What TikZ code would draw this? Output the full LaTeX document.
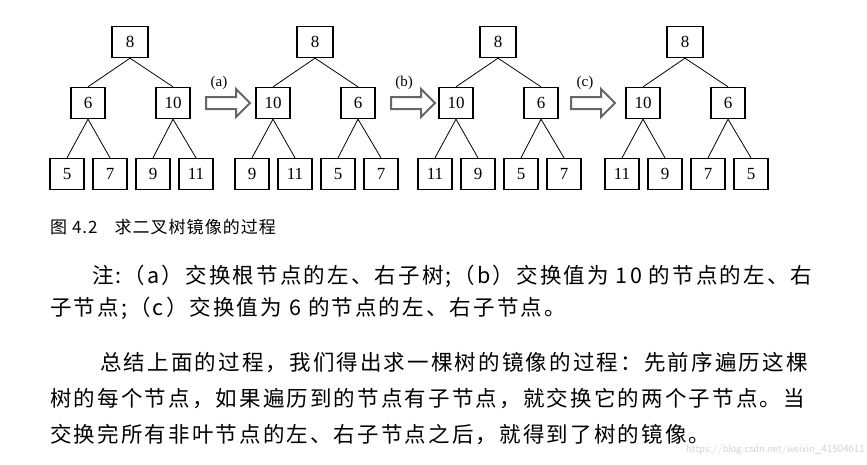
\documentclass[tikz,border=0pt]{standalone}
\usepackage{fontspec}
\setmainfont{Liberation Serif}
\newfontfamily\cjk[LetterSpace=10]{Noto Sans CJK SC}
\newfontfamily\cjkcap[LetterSpace=6]{Noto Sans CJK SC}
\usetikzlibrary{shapes.arrows}
\begin{document}
\begin{tikzpicture}[x=1pt,y=-1pt,
  tn/.style={draw,line width=1.3pt,minimum width=34pt,minimum height=31pt,inner sep=0pt,font=\fontsize{17}{17}\selectfont},
  rn/.style={tn,minimum width=36pt},
  ed/.style={line width=0.8pt},
  fat/.style={single arrow,draw=gray!80!black,line width=2pt,fill=white,minimum height=44pt,minimum width=28pt,single arrow head extend=4pt,inner sep=2pt},
  lab/.style={font=\fontsize{15}{15}\selectfont},
  body/.style={anchor=west,inner sep=0pt,font=\cjk\fontsize{21.5}{21.5}\selectfont}]
\useasboundingbox (0,0) rectangle (867,464);
\newcommand\drawtree[8]{%
  \node[rn] (#1r) at (#2,42) {8};
  \node[tn] (#1a) at (#2-42,103) {#3};
  \node[tn] (#1b) at (#2+43,103) {#4};
  \node[tn] (#1l1) at (#2-63,174) {#5};
  \node[tn] (#1l2) at (#2-20,174) {#6};
  \node[tn] (#1l3) at (#2+23,174) {#7};
  \node[tn] (#1l4) at (#2+66,174) {#8};
  \draw[ed] (#1r.south) -- (#1a.north) (#1r.south) -- (#1b.north)
    (#1a.south) -- (#1l1.north) (#1a.south) -- (#1l2.north)
    (#1b.south) -- (#1l3.north) (#1b.south) -- (#1l4.north);}
\drawtree{A}{130}{6}{10}{5}{7}{9}{11}
\drawtree{B}{315}{10}{6}{9}{11}{5}{7}
\drawtree{C}{498}{10}{6}{11}{9}{5}{7}
\drawtree{D}{685}{10}{6}{11}{9}{7}{5}
\node[fat] (pa) at (225,103) {};
\node[fat] (pb) at (410,103) {};
\node[fat] (pc) at (590,103) {};
\node[lab] (la) at (219,83) {(a)};
\node[lab] (lb) at (404,83) {(b)};
\node[lab] (lc) at (585,83) {(c)};
\node[anchor=west,inner sep=0pt,font=\cjkcap\fontsize{17}{17}\selectfont] (cap) at (50,227) {图 4.2\quad 求二叉树镜像的过程};
\node[body] (t1) at (92,276) {注:（a）交换根节点的左、右子树;（b）交换值为 10 的节点的左、右};
\node[body] (t2) at (50,308) {子节点;（c）交换值为 6 的节点的左、右子节点。};
\node[body] (t3) at (100,363) {总结上面的过程，我们得出求一棵树的镜像的过程：先前序遍历这棵};
\node[body] (t4) at (50,399) {树的每个节点，如果遍历到的节点有子节点，就交换它的两个子节点。当};
\node[body] (t5) at (50,435) {交换完所有非叶节点的左、右子节点之后，就得到了树的镜像。};
\node[anchor=east,inner sep=0pt,text=gray!35,font=\sffamily\fontsize{11}{11}\selectfont] (wm) at (865,450) {https://blog.csdn.net/weixin\_41504611};
\end{tikzpicture}
\end{document}
